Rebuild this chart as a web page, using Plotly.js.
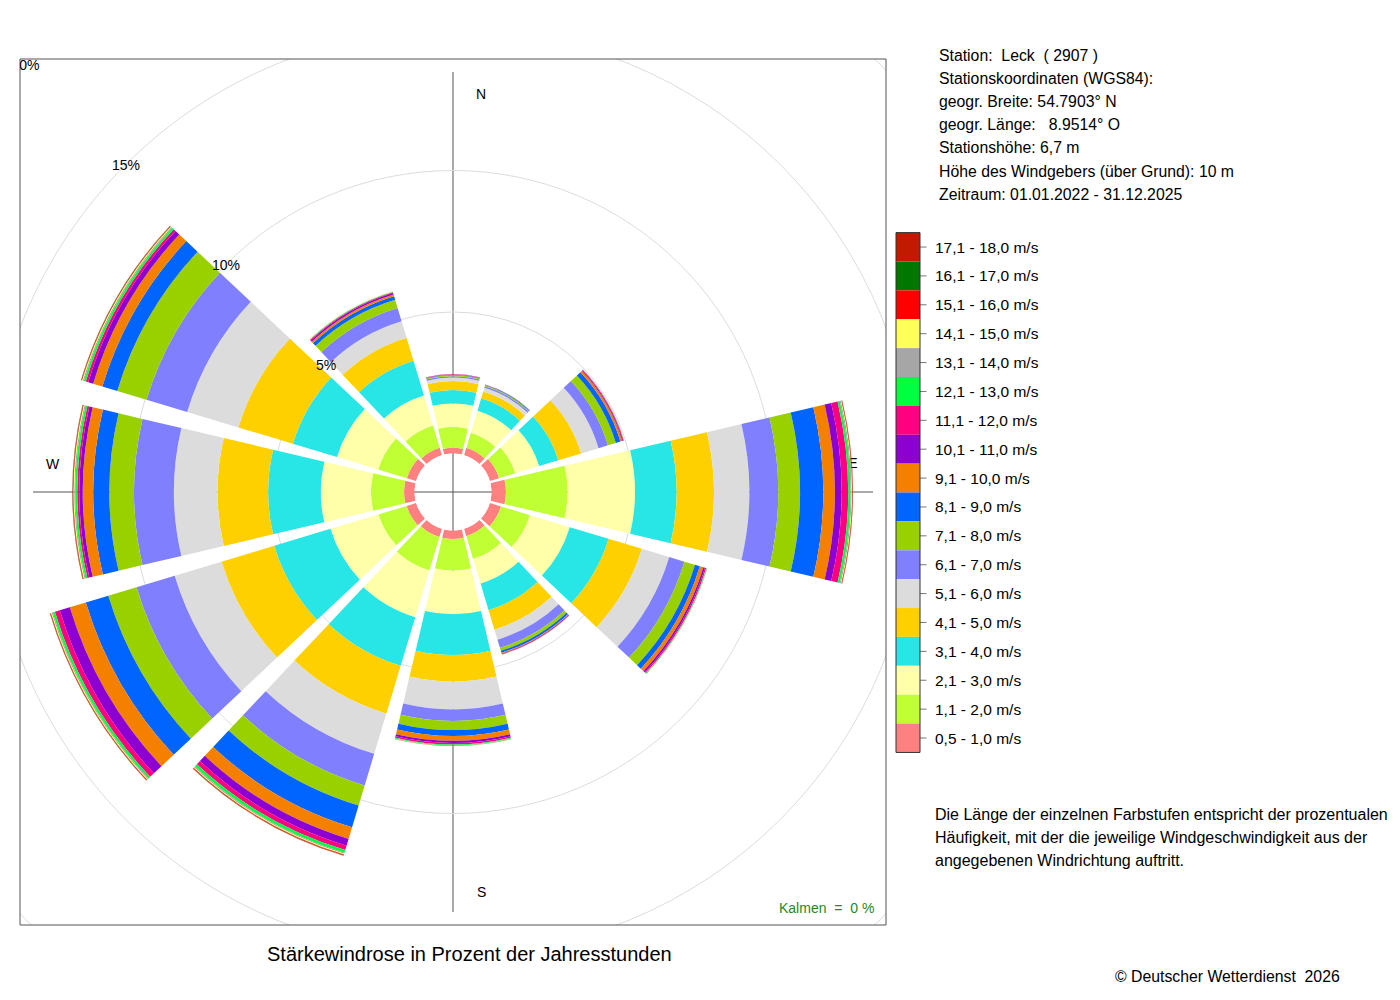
<!DOCTYPE html>
<html><head><meta charset="utf-8">
<script src="https://cdn.plot.ly/plotly-3.0.1.min.js"></script>
<style>html,body{margin:0;padding:0;background:#fff}#chart{width:1400px;height:1000px}</style>
</head><body><div id="chart"></div>
<script>
// ---------- data (percent of yearly hours) ----------
// directions: N, 30, 60, E, 120, 150, S, 210, 240, W, 300, 330
const directions = [0, 30, 60, 90, 120, 150, 180, 210, 240, 270, 300, 330];

const speedClasses = [
  '0,5 - 1,0 m/s', '1,1 - 2,0 m/s', '2,1 - 3,0 m/s', '3,1 - 4,0 m/s', '4,1 - 5,0 m/s',
  '5,1 - 6,0 m/s', '6,1 - 7,0 m/s', '7,1 - 8,0 m/s', '8,1 - 9,0 m/s', '9,1 - 10,0 m/s',
  '10,1 - 11,0 m/s', '11,1 - 12,0 m/s', '12,1 - 13,0 m/s', '13,1 - 14,0 m/s', '14,1 - 15,0 m/s',
  '15,1 - 16,0 m/s', '16,1 - 17,0 m/s', '17,1 - 18,0 m/s'
];

const classColors = [
  '#FF8080', '#BFFF33', '#FFFFAA', '#28E6E6', '#FFD000',
  '#DCDCDC', '#8080FF', '#99D100', '#0064FF', '#F58000',
  '#8C00D2', '#FF0080', '#00FF40', '#A6A6A6', '#FFFF5A',
  '#FF0000', '#007800', '#C21A00'
];

const s0_5_1  = [0.20, 0.27, 0.34, 0.51, 0.41, 0.27, 0.30, 0.30, 0.35, 0.37, 0.34, 0.27];
const s1_2    = [0.74, 0.56, 0.60, 2.18, 1.07, 0.84, 1.12, 1.24, 1.04, 1.17, 1.06, 0.82];
const s2_3    = [0.83, 0.81, 0.88, 2.38, 1.47, 0.91, 1.54, 1.72, 1.77, 1.77, 1.52, 1.11];
const s3_4    = [0.47, 0.46, 0.71, 1.47, 1.43, 0.98, 1.44, 1.79, 2.08, 1.86, 1.63, 1.28];
const s4_5    = [0.32, 0.25, 0.84, 1.32, 1.23, 0.72, 0.94, 1.77, 1.94, 1.79, 2.01, 0.85];
const s5_6    = [0.12, 0.14, 0.64, 1.25, 1.01, 0.37, 0.98, 1.48, 1.73, 1.54, 1.89, 0.61];
const s6_7    = [0.05, 0.05, 0.35, 1.02, 0.56, 0.30, 0.41, 1.17, 1.41, 1.41, 1.50, 0.49];
const s7_8    = [0.03, 0.03, 0.29, 0.77, 0.39, 0.11, 0.32, 0.74, 1.04, 0.87, 1.08, 0.30];
const s8_9    = [0.02, 0.02, 0.17, 0.82, 0.18, 0.07, 0.21, 0.80, 0.83, 0.57, 0.55, 0.13];
const s9_10   = [0.01, 0.01, 0.07, 0.41, 0.13, 0.03, 0.17, 0.43, 0.59, 0.37, 0.34, 0.07];
const s10_11  = [0.01, 0.005, 0.03, 0.24, 0.06, 0.02, 0.08, 0.25, 0.37, 0.12, 0.18, 0.05];
const s11_12  = [0.005, 0.003, 0.02, 0.23, 0.04, 0.01, 0.05, 0.16, 0.18, 0.07, 0.09, 0.03];
const s12_13  = [0.002, 0.002, 0.01, 0.08, 0.02, 0.005, 0.03, 0.10, 0.08, 0.07, 0.07, 0.02];
const s13_14  = [0, 0, 0.005, 0.04, 0.01, 0.003, 0.01, 0.04, 0.04, 0.04, 0.04, 0.01];
const s14_15  = [0, 0, 0.003, 0.02, 0.005, 0.002, 0.005, 0.03, 0.03, 0.03, 0.03, 0.005];
const s15_16  = [0, 0, 0.002, 0.02, 0.003, 0.001, 0.003, 0.02, 0.02, 0.02, 0.02, 0.003];
const s16_17  = [0, 0, 0, 0.005, 0.002, 0, 0.002, 0.01, 0.01, 0.01, 0.01, 0.002];
const s17_18  = [0, 0, 0, 0.005, 0.001, 0, 0.001, 0.01, 0.01, 0.01, 0.01, 0.001];

const speedValues = [s0_5_1, s1_2, s2_3, s3_4, s4_5, s5_6, s6_7, s7_8, s8_9, s9_10,
                     s10_11, s11_12, s12_13, s13_14, s14_15, s15_16, s16_17, s17_18];

const gridLevels = [5, 10, 15, 20];
const gridLabels = ['5%', '10%', '15%', '20%'];
const compassLabels = ['N', 'E', 'S', 'W'];

const stationLines = [
  'Station:\u00A0 Leck \u00A0( 2907 )',
  'Stationskoordinaten (WGS84):',
  'geogr. Breite: 54.7903\u00B0 N',
  'geogr. L\u00E4nge: \u00A0 8.9514\u00B0 O',
  'Stationsh\u00F6he: 6,7 m',
  'H\u00F6he des Windgebers (\u00FCber Grund): 10 m',
  'Zeitraum: 01.01.2022 - 31.12.2025'
];
const noteLines = [
  'Die L\u00E4nge der einzelnen Farbstufen entspricht der prozentualen',
  'H\u00E4ufigkeit, mit der die jeweilige Windgeschwindigkeit aus der',
  'angegebenen Windrichtung auftritt.'
];
const chartTitle = 'St\u00E4rkewindrose in Prozent der Jahresstunden';
const calmText = 'Kalmen \u00A0= \u00A00 %';
const copyrightText = '\u00A9 Deutscher Wetterdienst \u00A02026';

// ---------- layout geometry ----------
const W = 1400, H = 1000;
const cx = 453, cy = 492;          // centre of the rose in px
const polarR = 453;                // drawn polar radius in px
const holePx = 38.5;               // 0 % ring
const pxPerPct = 28.3;             // radial scale
const sectorWidth = 26.5;          // degrees
const box = {x0: 20, x1: 886, y0: 59, y1: 925};
const X = p => p / W;
const Y = p => 1 - p / H;
const FONT = 'Liberation Sans, Arial, Helvetica, sans-serif';

// ---------- traces ----------
const traces = speedValues.map((vals, i) => ({
  type: 'barpolar',
  r: vals,
  theta: directions,
  width: directions.map(() => sectorWidth),
  name: speedClasses[i],
  marker: {color: classColors[i], line: {width: 0}},
  hoverinfo: 'skip',
  showlegend: false
}));

// text under the bars / clipped to the frame (cartesian layer lies beneath the polar layer)
const r20 = holePx + 20 * pxPerPct;
const d45 = Math.SQRT1_2;
traces.unshift({
  type: 'scatter', mode: 'text',
  x: [cx - r20 * d45, cx + 400],
  y: [cy - r20 * d45 + 2, cy - 28],
  text: [gridLabels[3], compassLabels[1]],
  textfont: {family: FONT, size: [14, 14], color: '#000'},
  textposition: 'middle center',
  cliponaxis: true,
  xaxis: 'x', yaxis: 'y',
  hoverinfo: 'skip', showlegend: false
});

// ---------- shapes ----------
const shapes = [];
[15, 20].forEach(lv => {
  const r = holePx + lv * pxPerPct;
  shapes.push({type: 'circle', xref: 'paper', yref: 'paper', layer: 'below',
    x0: X(cx - r), x1: X(cx + r), y0: Y(cy + r), y1: Y(cy - r),
    line: {color: '#dcdcdc', width: 1}});
});
// white masks outside the frame
[[-0.05, X(box.x0), -0.05, 1.05], [X(box.x1), 1.05, -0.05, 1.05],
 [-0.05, 1.05, Y(box.y0), 1.05], [-0.05, 1.05, -0.05, Y(box.y1)]].forEach(m => {
  shapes.push({type: 'rect', xref: 'paper', yref: 'paper', layer: 'below',
    x0: m[0], x1: m[1], y0: m[2], y1: m[3], fillcolor: '#ffffff', line: {width: 0}});
});
// frame
shapes.push({type: 'rect', xref: 'paper', yref: 'paper', layer: 'below',
  x0: X(box.x0), x1: X(box.x1), y0: Y(box.y1), y1: Y(box.y0),
  line: {color: '#555', width: 1}, fillcolor: 'rgba(0,0,0,0)'});
// N-S and W-E axis lines
const axLen = 420;
shapes.push({type: 'line', xref: 'paper', yref: 'paper', layer: 'below',
  x0: X(cx), x1: X(cx), y0: Y(cy - axLen), y1: Y(cy + axLen), line: {color: '#555', width: 1}});
shapes.push({type: 'line', xref: 'paper', yref: 'paper', layer: 'below',
  x0: X(cx - axLen), x1: X(cx + axLen), y0: Y(cy), y1: Y(cy), line: {color: '#555', width: 1}});

// legend colour bar
const leg = {x0: 896, x1: 920, top: 232.6, step: 28.88};
const n = speedClasses.length;
const annotations = [];
for (let k = 0; k < n; k++) {
  const idx = n - 1 - k;              // highest class on top
  const y0 = leg.top + k * leg.step, y1 = y0 + leg.step, ym = (y0 + y1) / 2;
  shapes.push({type: 'rect', xref: 'paper', yref: 'paper', layer: 'above',
    x0: X(leg.x0), x1: X(leg.x1), y0: Y(y1), y1: Y(y0),
    fillcolor: classColors[idx], line: {width: 0}});
  shapes.push({type: 'line', xref: 'paper', yref: 'paper', layer: 'above',
    x0: X(leg.x1), x1: X(leg.x1 + 6.5), y0: Y(ym), y1: Y(ym), line: {color: '#777', width: 1}});
  annotations.push({xref: 'paper', yref: 'paper', x: X(933), y: Y(ym), xanchor: 'left', yanchor: 'middle',
    text: speedClasses[idx], showarrow: false, font: {family: FONT, size: 15.5, color: '#000'}});
}
shapes.push({type: 'rect', xref: 'paper', yref: 'paper', layer: 'above',
  x0: X(leg.x0), x1: X(leg.x1), y0: Y(leg.top + n * leg.step), y1: Y(leg.top),
  line: {color: '#333', width: 1}, fillcolor: 'rgba(0,0,0,0)'});

// grid labels (5, 10, 15 %) above the bars
for (let i = 0; i < 3; i++) {
  const r = holePx + gridLevels[i] * pxPerPct;
  annotations.push({xref: 'paper', yref: 'paper', x: X(cx - r * d45), y: Y(cy - r * d45),
    xanchor: 'center', yanchor: 'middle', text: gridLabels[i], showarrow: false,
    font: {family: FONT, size: 14, color: '#000'}});
}
// compass labels N, S, W
[[compassLabels[0], cx + 28, cy - 398], [compassLabels[2], cx + 28, cy + 400], [compassLabels[3], cx - 400, cy - 28]]
  .forEach(c => annotations.push({xref: 'paper', yref: 'paper', x: X(c[1]), y: Y(c[2]),
    xanchor: 'center', yanchor: 'middle', text: c[0], showarrow: false,
    font: {family: FONT, size: 14, color: '#000'}}));

stationLines.forEach((t, i) => annotations.push({xref: 'paper', yref: 'paper', x: X(937),
  y: Y(55 + i * 23.2), xanchor: 'left', yanchor: 'middle', text: t, showarrow: false,
  font: {family: FONT, size: 15.8, color: '#000'}}));
noteLines.forEach((t, i) => annotations.push({xref: 'paper', yref: 'paper', x: X(933),
  y: Y(814 + i * 23), xanchor: 'left', yanchor: 'middle', text: t, showarrow: false,
  font: {family: FONT, size: 16, color: '#000'}}));
annotations.push({xref: 'paper', yref: 'paper', x: X(470), y: Y(954), xanchor: 'center', yanchor: 'middle',
  text: chartTitle, showarrow: false, font: {family: FONT, size: 20, color: '#000'}});
annotations.push({xref: 'paper', yref: 'paper', x: X(876), y: Y(908), xanchor: 'right', yanchor: 'middle',
  text: calmText, showarrow: false, font: {family: FONT, size: 14, color: '#228B22'}});
annotations.push({xref: 'paper', yref: 'paper', x: X(1113), y: Y(976), xanchor: 'left', yanchor: 'middle',
  text: copyrightText, showarrow: false, font: {family: FONT, size: 15.8, color: '#000'}});

const layout = {
  width: W, height: H,
  margin: {l: 0, r: 0, t: 0, b: 0, pad: 0},
  paper_bgcolor: '#ffffff',
  plot_bgcolor: 'rgba(0,0,0,0)',
  showlegend: false,
  font: {family: FONT},
  xaxis: {domain: [X(box.x0), X(box.x1)], range: [box.x0, box.x1], visible: false, fixedrange: true},
  yaxis: {domain: [Y(box.y1), Y(box.y0)], range: [box.y1, box.y0], visible: false, fixedrange: true},
  polar: {
    domain: {x: [X(cx - polarR), X(cx + polarR)], y: [Y(cy + polarR), Y(cy - polarR)]},
    hole: holePx / polarR,
    bgcolor: 'rgba(0,0,0,0)',
    barmode: 'stack',
    bargap: 0,
    radialaxis: {range: [0, (polarR - holePx) / pxPerPct], tickvals: gridLevels.slice(0, 2),
      showticklabels: false, ticks: '', showline: false, showgrid: true,
      gridcolor: '#dcdcdc', gridwidth: 1, layer: 'below traces'},
    angularaxis: {direction: 'clockwise', rotation: 90, showgrid: false, showline: false,
      showticklabels: false, ticks: '', layer: 'below traces'}
  },
  shapes: shapes,
  annotations: annotations
};

Plotly.newPlot('chart', traces, layout, {staticPlot: true, displayModeBar: false});
</script></body></html>
